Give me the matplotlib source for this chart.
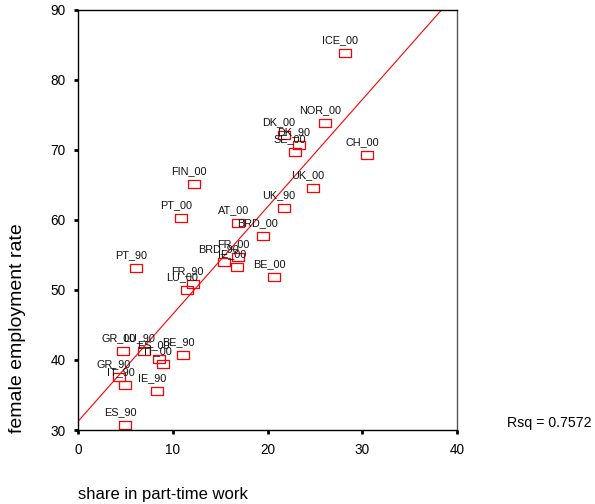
import numpy as np
import matplotlib.pyplot as plt

plt.rcParams['font.family'] = ['Liberation Sans', 'DejaVu Sans']

countries = ["ICE_00", "NOR_00", "DK_00", "DK_90", "SE_00", "CH_00", "UK_00", "UK_90",
             "FIN_00", "PT_00", "AT_00", "BRD_00", "BRD_90", "FR_00", "IE_00", "BE_00",
             "FR_90", "LU_00", "PT_90", "GR_00", "LU_90", "ES_00", "IT_00", "BE_90",
             "GR_90", "IT_90", "IE_90", "ES_90"]
part_time = [28.2, 26.1, 21.7, 23.3, 22.9, 30.5, 24.8, 21.7,
             12.2, 10.9, 16.9, 19.5, 15.4, 16.9, 16.8, 20.7,
             12.1, 11.5, 6.1, 4.8, 7.0, 8.5, 9.0, 11.1,
             4.3, 5.0, 8.3, 5.0]
employment = [83.9, 73.9, 72.1, 70.7, 69.7, 69.3, 64.6, 61.7,
              65.1, 60.3, 59.6, 57.7, 54.0, 54.7, 53.3, 51.9,
              50.9, 50.0, 53.1, 41.3, 41.3, 40.2, 39.4, 40.7,
              37.6, 36.4, 35.6, 30.7]
rsq = 0.7572

x = np.array(part_time)
y = np.array(employment)
slope, intercept = np.polyfit(x, y, 1)

fig = plt.figure(figsize=(5.95, 5.04), dpi=100)
ax = fig.add_axes([78 / 595, 1 - 430 / 504, 379 / 595, 420 / 504])

# open rectangles, a bit wider than tall
rect = [(-1.4, -1), (1.4, -1), (1.4, 1), (-1.4, 1), (-1.4, -1)]
ax.plot(x, y, linestyle="none", marker=rect, markersize=8, markerfacecolor="none",
        markeredgecolor="red", markeredgewidth=0.9, clip_on=False)

for name, xi, yi in zip(countries, x, y):
    ax.annotate(name, (xi, yi), xytext=(-5, 13), textcoords="offset pixels",
                ha="center", va="center", fontsize=7.8, color="#111111")

xs = np.array([0, 40])
ax.plot(xs, intercept + slope * xs, color="red", lw=0.8)

ax.set_xlim(0, 40)
ax.set_ylim(30, 90)
ax.set_xticks([0, 10, 20, 30, 40])
ax.set_yticks([30, 40, 50, 60, 70, 80, 90])
ax.tick_params(direction="out", length=3, width=2, labelsize=9.8, pad=6)
for s in ax.spines.values():
    s.set_linewidth(1)
ax.spines["right"].set_color("#555555")

fig.text(17.5 / 595, 1 - 328.5 / 504, "female employment rate", rotation=90,
         ha="center", va="center", fontsize=14)
fig.text(78 / 595, 1 - 495 / 504, "share in part-time work", ha="left", va="center", fontsize=12)
fig.text(507 / 595, 1 - 423 / 504, "Rsq = %.4f" % rsq, ha="left", va="center", fontsize=10.2)

fig.savefig("out.png", dpi=100)
